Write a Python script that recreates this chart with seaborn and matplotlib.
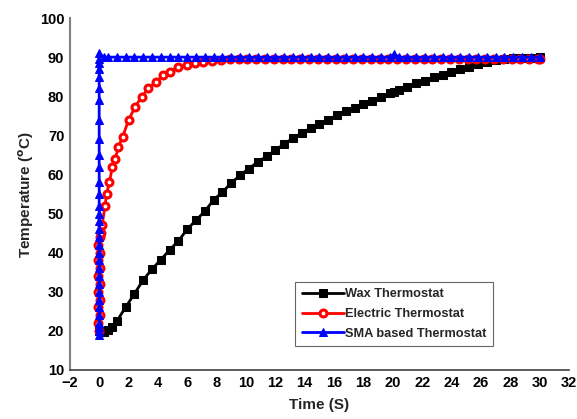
import matplotlib
matplotlib.use("Agg")
import matplotlib.pyplot as plt
import seaborn as sns
import pandas as pd

# Wax thermostat
wax_t = [0, 0.3, 0.6, 0.9, 1.2, 1.8, 2.4, 3.0, 3.6, 4.2, 4.8, 5.4, 6.0, 6.6, 7.2, 7.8,
         8.4, 9.0, 9.6, 10.2, 10.8, 11.4, 12.0, 12.6, 13.2, 13.8, 14.4, 15.0, 15.6,
         16.2, 16.8, 17.4, 18.0, 18.6, 19.2, 19.8, 20.1, 20.4, 21.0, 21.6, 22.2, 22.8,
         23.4, 24.0, 24.6, 25.2, 25.8, 26.4, 27.0, 27.6, 28.2, 28.8, 29.4, 30.0]
wax_T = [20, 19.8, 20.2, 21, 22.5, 26, 29.5, 33, 35.8, 38.2, 40.7, 43, 46, 48.3, 50.6,
         53.5, 55.5, 57.8, 59.8, 61.5, 63.2, 64.6, 66.2, 67.8, 69.3, 70.6, 71.8, 73, 74,
         75.2, 76.2, 77, 78, 78.9, 79.9, 80.8, 81.2, 81.6, 82.4, 83.3, 84, 84.8, 85.5,
         86.3, 87, 87.6, 88.3, 88.8, 89.2, 89.5, 89.7, 89.8, 89.9, 90]

# Electric thermostat
ele_t = [0, -0.05, 0.05, -0.05, 0.05, -0.05, 0.05, -0.05, 0.05, -0.05, 0.05, -0.05, 0.05,
         0.1, 0.2, 0.4, 0.5, 0.7, 0.9, 1.1, 1.3, 1.6, 2.0, 2.45, 2.9, 3.35, 3.9, 4.35,
         4.8, 5.4, 6.0, 6.5, 7.1, 7.7, 8.3, 8.9, 9.5, 10.1, 10.7, 11.3, 11.9, 12.5,
         13.1, 13.7, 14.3, 14.9, 15.5, 16.1, 16.7, 17.3, 17.9, 18.5, 19.1, 19.7, 20.3,
         20.9, 21.5, 22.1, 22.7, 23.3, 23.9, 24.5, 25.1, 25.7, 26.3, 26.9, 27.5, 28.1,
         28.7, 29.3, 29.9, 30.0]
ele_T = [20, 22, 24, 26, 28, 30, 32, 34, 36, 38, 40, 42, 44, 45, 47, 52, 55, 58, 62, 64,
         67, 69.6, 73.9, 77.3, 79.9, 82, 83.7, 85.4, 86.3, 87.5, 88, 88.4, 88.8, 89.1,
         89.3, 89.4, 89.5, 89.5, 89.5, 89.5, 89.5, 89.5, 89.5, 89.5, 89.5, 89.5, 89.5,
         89.5, 89.5, 89.5, 89.5, 89.5, 89.5, 89.5, 89.5, 89.5, 89.5, 89.5, 89.5, 89.5,
         89.5, 89.5, 89.5, 89.5, 89.5, 89.5, 89.5, 89.5, 89.5, 89.5, 89.5, 89.5]

# SMA based thermostat
sma_t = [0, 0, 0, 0, 0, 0, 0, 0, 0, 0, 0, 0, 0, 0, 0, 0, 0, 0, 0, 0, 0, 0, 0, 0, 0, 0,
         0, 0, 0, 0, 0, 0, 0.3, 0.6, 1.2, 1.8, 2.4, 3.0, 3.6, 4.2, 4.8, 5.4, 6.0, 6.6,
         7.2, 7.8, 8.4, 9.0, 9.6, 10.2, 10.8, 11.4, 12.0, 12.6, 13.2, 13.8, 14.4, 15.0,
         15.6, 16.2, 16.8, 17.4, 18.0, 18.6, 19.2, 19.8, 20.1, 20.4, 21.0, 21.6, 22.2,
         22.8, 23.4, 24.0, 24.6, 25.2, 25.8, 26.4, 27.0, 27.6, 28.2, 28.8, 29.4, 30.0]
sma_T = [19, 20, 21, 22, 24, 26, 28, 30, 32, 34, 36, 38, 40, 42, 44, 46, 48, 50, 52, 55,
         58, 62, 65, 69, 74, 79, 82, 85, 87, 88.5, 89.5, 91, 90, 90, 90, 90, 90, 90, 90,
         90, 90, 90, 90, 90, 90, 90, 90, 90, 90, 90, 90, 90, 90, 90, 90, 90, 90, 90, 90,
         90, 90, 90, 90, 90, 90, 90, 90.7, 90, 90, 90, 90, 90, 90, 90, 90, 90, 90, 90,
         90, 90, 90, 90, 90, 90]

labels = ["Wax Thermostat", "Electric Thermostat", "SMA based Thermostat"]
x_ticks = list(range(-2, 33, 2))
y_ticks = list(range(10, 101, 10))

sns.set_style("white")
plt.rcParams["font.family"] = ["Liberation Sans", "DejaVu Sans"]
plt.rcParams["font.weight"] = "bold"
plt.rcParams["mathtext.default"] = "bf"

fig = plt.figure(figsize=(5.77, 4.19), dpi=100)
ax = fig.add_axes([0.121, 0.117, 0.865, 0.84])

df_w = pd.DataFrame({"t": wax_t, "T": wax_T})
df_e = pd.DataFrame({"t": ele_t, "T": ele_T})
df_s = pd.DataFrame({"t": sma_t, "T": sma_T})

sns.lineplot(data=df_w, x="t", y="T", ax=ax, sort=False, estimator=None, color="black",
             lw=2, marker="s", markersize=6, mec="black", mfc="black", label=labels[0])
sns.lineplot(data=df_e, x="t", y="T", ax=ax, sort=False, estimator=None, color="red",
             lw=2, marker="o", markersize=5, mec="red", mfc="white", mew=2.2,
             label=labels[1])
sns.lineplot(data=df_s, x="t", y="T", ax=ax, sort=False, estimator=None, color="blue",
             lw=2, marker="^", markersize=6, mec="blue", mfc="blue", label=labels[2])

ax.set_xlim(-2, 32)
ax.set_ylim(10, 100)
ax.set_xticks(x_ticks)
ax.set_yticks(y_ticks)
ax.set_xticklabels(["\u2212" + str(-v) if v < 0 else str(v) for v in x_ticks],
                   fontsize=10.5, fontweight="bold")
ax.set_yticklabels([str(v) for v in y_ticks], fontsize=10.5, fontweight="bold")
ax.tick_params(direction="in", length=4, width=1, colors="#333333", pad=4)
ax.tick_params(axis="both", labelcolor="black")

for s in ["top", "right"]:
    ax.spines[s].set_visible(False)
ax.spines["left"].set_color("#808080")
ax.spines["left"].set_linewidth(1.5)
ax.spines["bottom"].set_color("#404040")
ax.spines["bottom"].set_linewidth(1.2)

ax.set_xlabel("Time (S)", fontsize=11, fontweight="bold", labelpad=6)
ax.set_ylabel(r"Temperature ($^{\mathbf{o}}$C)", fontsize=11, fontweight="bold", labelpad=3)

leg = ax.legend(loc="lower left", bbox_to_anchor=(0.452, 0.068),
                frameon=True, fancybox=False, handlelength=3.3, borderpad=0.5,
                labelspacing=0.6, handletextpad=0.1, borderaxespad=0,
                prop={"weight": "bold", "size": 9.2})
leg.get_frame().set_edgecolor("#404040")
leg.get_frame().set_linewidth(0.8)

fig.savefig("out.png", dpi=100)
